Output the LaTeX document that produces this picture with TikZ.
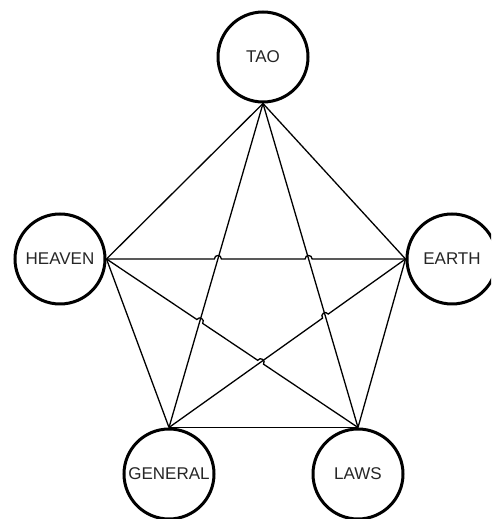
\documentclass[tikz,border=0pt]{standalone}
\usepackage{fontspec}
\setmainfont{Liberation Sans}
\usetikzlibrary{calc}

\begin{document}
\begin{tikzpicture}[x=1pt, y=1pt,
	topic/.style={circle, draw=black, line width=3pt, fill=white, minimum size=90pt,
	              inner sep=0pt, text=black!85, font=\fontsize{17}{20}\selectfont},
	link/.style={draw=black, line width=1.3pt}
	]
\useasboundingbox (0,0) rectangle (491,519);
\clip (0,0) rectangle (491,519);

\node[topic] (tao)     at (263,462) {TAO};
\node[topic] (heaven)  at (60,260)  {HEAVEN};
\node[topic] (earth)   at (452,260) {EARTH};
\node[topic] (general) at (169,45)  {GENERAL};
\node[topic] (laws)    at (358,45)  {LAWS};

% crossing points where a line hops over another
\coordinate (j1) at (intersection of tao.south--general.north and heaven.east--earth.west);
\coordinate (j2) at (intersection of tao.south--laws.north and heaven.east--earth.west);
\coordinate (j3) at (intersection of tao.south--general.north and heaven.east--laws.north);
\coordinate (j4) at (intersection of earth.west--general.north and heaven.east--laws.north);
\coordinate (j5) at (intersection of tao.south--laws.north and earth.west--general.north);

% outer pentagon
\draw[link] (tao.south) -- (heaven.east);
\draw[link] (tao.south) -- (earth.west);
\draw[link] (heaven.east) -- (general.north);
\draw[link] (earth.west) -- (laws.north);
\draw[link] (general.north) -- (laws.north);

% star
\draw[link] (tao.south) -- (general.north);
\draw[link] (tao.south) -- (laws.north);
\draw[link] (general.north)
	-- ($(j5)!3.5pt!(general.north)$)
	.. controls ($(j5)!5.83pt!-53.13:(general.north)$) and ($(j5)!5.83pt!53.13:(earth.west)$) .. ($(j5)!3.5pt!(earth.west)$)
	-- (earth.west);
\draw[link] (heaven.east)
	-- ($(j1)!3.5pt!(heaven.east)$)
	.. controls ($(j1)!5.83pt!-53.13:(heaven.east)$) and ($(j1)!5.83pt!53.13:(earth.west)$) .. ($(j1)!3.5pt!(earth.west)$)
	-- ($(j2)!3.5pt!(heaven.east)$)
	.. controls ($(j2)!5.83pt!-53.13:(heaven.east)$) and ($(j2)!5.83pt!53.13:(earth.west)$) .. ($(j2)!3.5pt!(earth.west)$)
	-- (earth.west);
\draw[link] (heaven.east)
	-- ($(j3)!3.5pt!(heaven.east)$)
	.. controls ($(j3)!5.83pt!-53.13:(heaven.east)$) and ($(j3)!5.83pt!53.13:(laws.north)$) .. ($(j3)!3.5pt!(laws.north)$)
	-- ($(j4)!3.5pt!(heaven.east)$)
	.. controls ($(j4)!5.83pt!-53.13:(heaven.east)$) and ($(j4)!5.83pt!53.13:(laws.north)$) .. ($(j4)!3.5pt!(laws.north)$)
	-- (laws.north);
\end{tikzpicture}
\end{document}
